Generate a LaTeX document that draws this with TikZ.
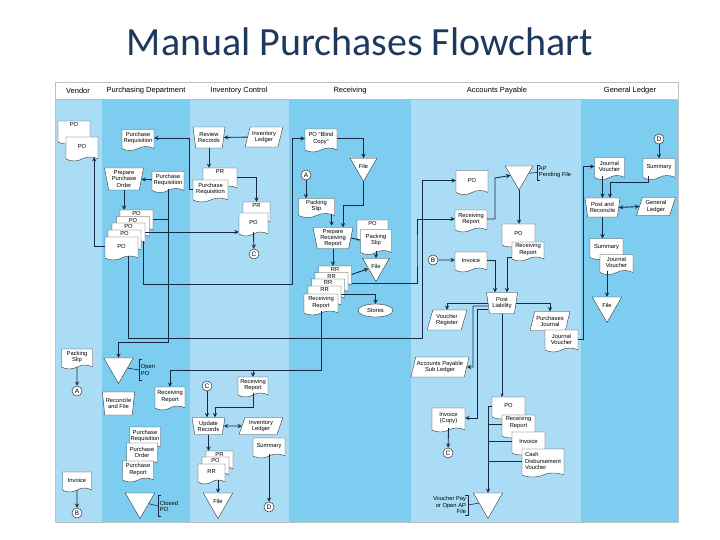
\documentclass[tikz,border=0pt]{standalone}
\usepackage{fontspec}
\setmainfont{Liberation Sans}
\newfontfamily\titlefont{Carlito}
\usepackage{tikz}
\usetikzlibrary{shapes.geometric,shapes.symbols}
\definecolor{laneL}{RGB}{170,221,245}
\definecolor{laneD}{RGB}{125,205,241}
\definecolor{ink}{RGB}{22,40,68}
\definecolor{ttl}{RGB}{31,56,93}
\newcommand{\ftxt}{\fontsize{5.8}{6.1}\selectfont}
\begin{document}
\begin{tikzpicture}[x=1pt,y=-1pt,>=stealth,line width=0.9pt,color=ink,text=black,
  lbl/.style={font=\ftxt,inner sep=1.5pt,align=center},
  doc/.style={shape=tape,tape bend top=none,tape bend height=4pt,draw=black!80,line width=0.4pt,fill=white,font=\ftxt,align=center,inner sep=1pt},
  bdoc/.style={doc,label={[lbl,anchor=north]north:#1}},
  oper/.style={trapezium,trapezium left angle=101,trapezium right angle=101,trapezium stretches=true,draw=black!80,line width=0.4pt,fill=white,font=\ftxt,align=center,inner sep=1pt},
  ledger/.style={trapezium,trapezium left angle=70,trapezium right angle=110,trapezium stretches=true,draw=black!80,line width=0.4pt,fill=white,font=\ftxt,align=center,inner sep=1pt},
  file/.style={regular polygon,regular polygon sides=3,shape border rotate=180,minimum size=34pt,inner sep=0pt,draw=black!80,line width=0.4pt,fill=white,font=\ftxt},
  conn/.style={circle,draw=black!80,line width=0.5pt,fill=white,minimum size=10pt,inner sep=0pt,font=\fontsize{6.5}{6.5}\selectfont},
  note/.style={font=\ftxt,align=left,inner sep=1.5pt},
  hd/.style={font=\fontsize{7.5}{8}\selectfont,inner sep=0pt}]
\useasboundingbox (0,0) rectangle (720,540);
\foreach \xa/\xb/\c in {55/102/laneL,102/190/laneD,190/289/laneL,289/411/laneD,411/581/laneL,581/678/laneD}
  \fill[\c] (\xa,99) rectangle (\xb,522);
\draw[black!25,line width=0.5pt] (55,82) rectangle (678,522) (55,99) -- (678,99);
\foreach \x/\t [count=\i] in {78/Vendor,146/Purchasing Department,239/Inventory Control,350/Receiving,497/Accounts Payable,630/General Ledger}
  \node[hd] (h\i) at (\x,91) {\t};
\node[font=\titlefont\fontsize{40}{40}\selectfont,text=ttl,anchor=base] (title) at (360,56) {Manual Purchases Flowchart};

\coordinate (j342) at (118.5,342);
\coordinate (j338) at (422,338);
\coordinate (j284) at (292,284);
\coordinate (j205) at (343,205);
\coordinate (j250) at (417,250);
\coordinate (j370) at (253,370);
\coordinate (j407) at (215,407);
\coordinate (j178) at (495,178);
\coordinate (j473) at (473,367);
\coordinate (j477) at (477,418);
\coordinate (j182) at (610,182);

\node[bdoc=PO,minimum width=32pt,minimum height=23pt] (vpo1) at (74,130.5) {};
\node[doc,minimum width=32pt,minimum height=24pt] (vpo2) at (82,147) {PO};
\node[doc,minimum width=31pt,minimum height=20pt] (vps) at (77,357) {Packing\\Slip};
\node[conn] (a1) at (77,391) {A};
\node[doc,minimum width=29pt,minimum height=20pt] (vinv) at (77,480) {Invoice};
\node[conn] (b1) at (77,513) {B};

\node[doc,minimum width=32pt,minimum height=21pt] (preq) at (138,138) {Purchase\\Requisition};
\node[oper,minimum width=39pt,minimum height=22pt] (ppo) at (124,179) {Prepare\\Purchase\\Order};
\node[doc,minimum width=32pt,minimum height=21pt] (preq2) at (168,180) {Purchase\\Requisition};
\foreach \i/\x/\y in {4/136.5/219,3/133/225.5,2/128.5/232,1/124.5/239}
  \node[bdoc=PO,minimum width=33pt,minimum height=22pt] (po\i) at (\x,\y) {};
\node[doc,minimum width=33pt,minimum height=23pt] (po0) at (121.5,246.5) {PO};
\node[file] (opo) at (118.5,366.5) {};
\node[note,anchor=west,minimum height=20pt] (onote) at (139,370) {Open\\PO};
\node[oper,minimum width=31pt,minimum height=23pt] (rec) at (118.5,403.5) {Reconcile\\and File};
\node[doc,minimum width=30pt,minimum height=23pt] (prr) at (170,396.5) {Receiving\\Report};
\node[doc,minimum width=31pt,minimum height=22pt] (pdoc1) at (145,436) {Purchase\\Requisition};
\node[doc,minimum width=31pt,minimum height=22pt] (pdoc2) at (142,452) {Purchase\\Order};
\node[doc,minimum width=31pt,minimum height=21pt] (pdoc3) at (138,469.5) {Purchase\\Report};
\node[file] (cpo) at (140,501.5) {};
\node[note,anchor=west,minimum height=20pt] (cnote) at (158,506) {Closed\\PO};

\node[oper,minimum width=32pt,minimum height=21pt] (rev) at (209,137.5) {Review\\Records};
\node[ledger,minimum width=38pt,minimum height=20pt] (invl1) at (264,137) {Inventory\\Ledger};
\node[bdoc=PR,minimum width=34pt,minimum height=22pt] (iprb) at (220,177) {};
\node[doc,minimum width=35pt,minimum height=22pt] (ipr) at (210.5,189) {Purchase\\Requisition};
\node[bdoc=PR,minimum width=27pt,minimum height=22pt] (ipob) at (256.5,211) {};
\node[doc,minimum width=29pt,minimum height=23pt] (ipo) at (253.5,222.5) {PO};
\node[conn] (c1) at (254,254) {C};
\node[conn] (c2) at (207,386) {C};
\node[doc,minimum width=30pt,minimum height=20pt] (irr) at (253,385) {Receiving\\Report};
\node[oper,minimum width=33pt,minimum height=17pt] (upd) at (208.5,426) {Update\\Records};
\node[ledger,minimum width=44pt,minimum height=17pt] (invl2) at (261,426) {Inventory\\Ledger};
\node[doc,minimum width=32pt,minimum height=20pt] (isum) at (269,446) {Summary};
\node[conn] (d1) at (269,507) {D};
\node[bdoc=PR,minimum width=27pt,minimum height=20pt] (is2) at (219.5,459) {};
\node[bdoc=PO,minimum width=27pt,minimum height=20pt] (is1) at (215.5,465) {};
\node[doc,minimum width=27pt,minimum height=20pt] (is0) at (211.5,472) {RR};
\node[file] (ifile) at (218,501.5) {File};

\node[doc,minimum width=32pt,minimum height=23pt] (rpo) at (321,138.5) {PO “Blind\\Copy”};
\node[file,minimum size=31pt] (rf1) at (363.5,166) {File};
\node[conn] (a2) at (306,175) {A};
\node[doc,minimum width=36pt,minimum height=19pt] (rps) at (316.5,206) {Packing\\Slip};
\node[oper,minimum width=40pt,minimum height=21pt] (prep) at (333,238) {Prepare\\Receiving\\Report};
\node[bdoc=PO,minimum width=31pt,minimum height=22pt] (rpo2) at (372.5,229) {};
\node[doc,minimum width=31pt,minimum height=25pt] (rps2) at (376,240) {Packing\\Slip};
\node[file,minimum size=31pt] (rf2) at (376,266) {File};
\foreach \i/\x/\y in {4/335/274.5,3/331.5/281,2/328/287.5,1/324.5/294.5}
  \node[bdoc=RR,minimum width=33pt,minimum height=21pt] (rr\i) at (\x,\y) {};
\node[doc,minimum width=34pt,minimum height=21pt] (rr0) at (321,302.5) {Receiving\\Report};
\node[ellipse,draw=black!80,line width=0.4pt,fill=white,font=\ftxt,minimum width=35pt,minimum height=13pt,inner sep=0pt] (stores) at (375.5,310.5) {Stores};

\node[doc,minimum width=32pt,minimum height=24pt] (apo) at (472,180.5) {PO};
\node[file,minimum size=32pt] (apf) at (519,174) {};
\node[note,anchor=west] (pnote) at (537,172.5) {AP\\Pending File};
\node[doc,minimum width=32pt,minimum height=22pt] (arr) at (471,219) {Receiving\\Report};
\node[conn] (b2) at (433,260) {B};
\node[doc,minimum width=32pt,minimum height=20pt] (ainv) at (471,260) {Invoice};
\node[doc,minimum width=33pt,minimum height=23pt] (apob) at (518.5,233.5) {PO};
\node[doc,minimum width=32pt,minimum height=19pt] (aprr) at (528,249.5) {Receiving\\Report};
\node[oper,minimum width=31pt,minimum height=21pt] (post) at (502,303) {Post\\Liability};
\node[ledger,minimum width=40pt,minimum height=20pt] (vreg) at (447,320) {Voucher\\Register};
\node[ledger,minimum width=40pt,minimum height=19pt] (pj) at (550,321) {Purchases\\Journal};
\node[doc,minimum width=33pt,minimum height=22pt] (ajv) at (561.5,339) {Journal\\Voucher};
\node[ledger,minimum width=56pt,minimum height=20pt] (apsl) at (440,367) {Accounts Payable\\Sub Ledger};
\node[doc,minimum width=33pt,minimum height=24pt] (ainvc) at (448.5,418) {Invoice\\(Copy)};
\node[conn] (c3) at (448,453) {C};
\node[doc,minimum width=33pt,minimum height=22pt] (bpo) at (508.5,406) {PO};
\node[bdoc={Receiving\\Report},minimum width=33pt,minimum height=23pt] (brr) at (518.5,424.5) {};
\node[doc,minimum width=33pt,minimum height=23pt] (binv) at (528.5,441.5) {Invoice};
\node[doc,minimum width=42pt,minimum height=28pt,align=left] (bcdv) at (543,461) {Cash\\Disbursement\\Voucher};
\node[file] (apf2) at (488,501.5) {};
\node[note,anchor=east,align=right] (vnote) at (468,505) {Voucher Pay\\or Open AP\\File};

\node[conn] (d2) at (659,139) {D};
\node[doc,minimum width=30pt,minimum height=22pt] (gjv) at (609.5,166.5) {Journal\\Voucher};
\node[doc,minimum width=32pt,minimum height=21pt] (gsum) at (659,167) {Summary};
\node[oper,minimum width=35pt,minimum height=19pt] (gpr) at (602.5,207.5) {Post and\\Reconcile};
\node[ledger,minimum width=39pt,minimum height=18pt] (gl) at (656,206.5) {General\\Ledger};
\node[doc,minimum width=33pt,minimum height=21pt] (gsum2) at (606.5,247) {Summary};
\node[doc,minimum width=33pt,minimum height=20pt] (gjv2) at (616.5,262.5) {Journal\\Voucher};
\node[file] (gf) at (607,305.5) {File};

\draw[->] (po0.west) -| ([xshift=-4pt]vpo2.south east);
\draw[->] (vps) -- (a1);
\draw[->] (vinv) -- (b1);
\draw[->] (ipr.west) -- ++(-3,0) |- (preq.east);
\draw[->] (preq2) -- (ppo);
\draw[->] (ppo.south) -- (ppo.south |- po4.north);
\draw[->] (preq2.south) |- (j342) -- (opo.side 2);
\draw (po4.east) -- (po4.east -| preq2.south);
\draw[->] (po2.east) -- (po2.east -| ipo.west);
\draw[->] ([xshift=6.5pt]po0.south) |- (j338) |- (apo.west);
\draw[->] ([xshift=-2pt]po2.south east) |- (j284) |- (rpo.west);
\draw[->] (rr0.south) |- (prr.north |- j370) -- (prr.north);
\draw[->] (j370) -- (irr.north);

\draw[->] (rpo.east) -| (rf1.side 2);
\draw[->] (rf1.corner 1) |- (j205) -- (j205 |- prep.north);
\draw[->] (a2.south) -- (a2 |- rps.north);
\draw[->] ([xshift=-3pt]rps.south east) -- ++(0,12);
\draw (prep.east) -- (rps2.west);
\draw[->] (rps2.south) -- (rf2.side 2);
\draw[->] (prep.south) -- (prep.south |- rr4.north);
\draw[->] (rr4.east) -- (rf2);
\draw[->] (rr1.east) -| (stores);
\draw[->] (rr4.south east) -| (j250) |- (arr.west);

\draw[->] (invl1) -- (rev);
\draw[->] (rev.south) -- (rev.south |- iprb.north);
\draw[->] (iprb.east) -| (ipob.north);
\draw[->] (ipo.south) -- (c1);
\draw[->] (irr.south) |- (j407) -- (j407 |- upd.north);
\draw[->] (c2.south) -- (c2 |- upd.north);
\draw[<->] (upd.east) -- (invl2.west);
\draw[->] (upd.south) -- (upd.south |- is2.north);
\draw[->] (ifile.side 2 |- is0.south) -- (ifile.side 2);
\draw[->] (isum.south) -- (d1);

\draw[->] (arr.east) -| (j178) -- (apf);
\draw[->] (apf.corner 1) -- (apf.corner 1 |- apob.north);
\draw[->] (b2) -- (ainv);
\draw[->] (ainv.east) -| ([xshift=-7pt]post.north);
\draw[->] (aprr.south west) -| ([xshift=5pt]post.north);
\draw[->] (post.west) -| (vreg.north);
\draw[->] (post.east) -| (pj.north);
\draw[->] ([yshift=-3pt]post.west) -| (j473) -- (apsl.east);
\draw[->] ([yshift=-6pt]post.west) -| (j477) -- (ainvc.east);
\draw[->] (ainvc.south) -- (c3);
\draw[->,thin] (post.south) -- (post.south |- bpo.north);
\draw[->] (bpo.west) -| (apf2.side 2);
\foreach \n in {brr,binv,bcdv} \draw (\n.west) -- (\n.west -| apf2.side 2);
\draw[->] (ajv.east) -- ++(5,0) |- (gjv.west);

\draw[->] (d2) -- (gsum);
\draw[->] (gpr.north |- gjv.south) -- (gpr.north);
\draw[->] ([xshift=-11pt]gsum.south) |- (j182) -- (j182 |- gpr.north);
\draw[<->] (gpr.east) -- (gl.west);
\draw[->] (gpr.south) -- (gpr.south |- gsum2.north);
\draw[->] (gf.side 2 |- gjv2.south) -- (gf.side 2);

\foreach \n in {onote,cnote,pnote} \draw[line width=0.6pt] ([xshift=3pt]\n.north west) -| (\n.south west) -- ++(3,0);
\draw[line width=0.6pt] ([xshift=-3pt]vnote.north east) -| (vnote.south east) -- ++(-3,0);
\draw[line width=0.6pt] (onote.west) -- (opo);
\draw[line width=0.6pt] (cnote.west) -- (cpo);
\draw[line width=0.6pt] (pnote.west) -- (apf);
\draw[line width=0.6pt] (vnote.east) -- (apf2);
\end{tikzpicture}
\end{document}
